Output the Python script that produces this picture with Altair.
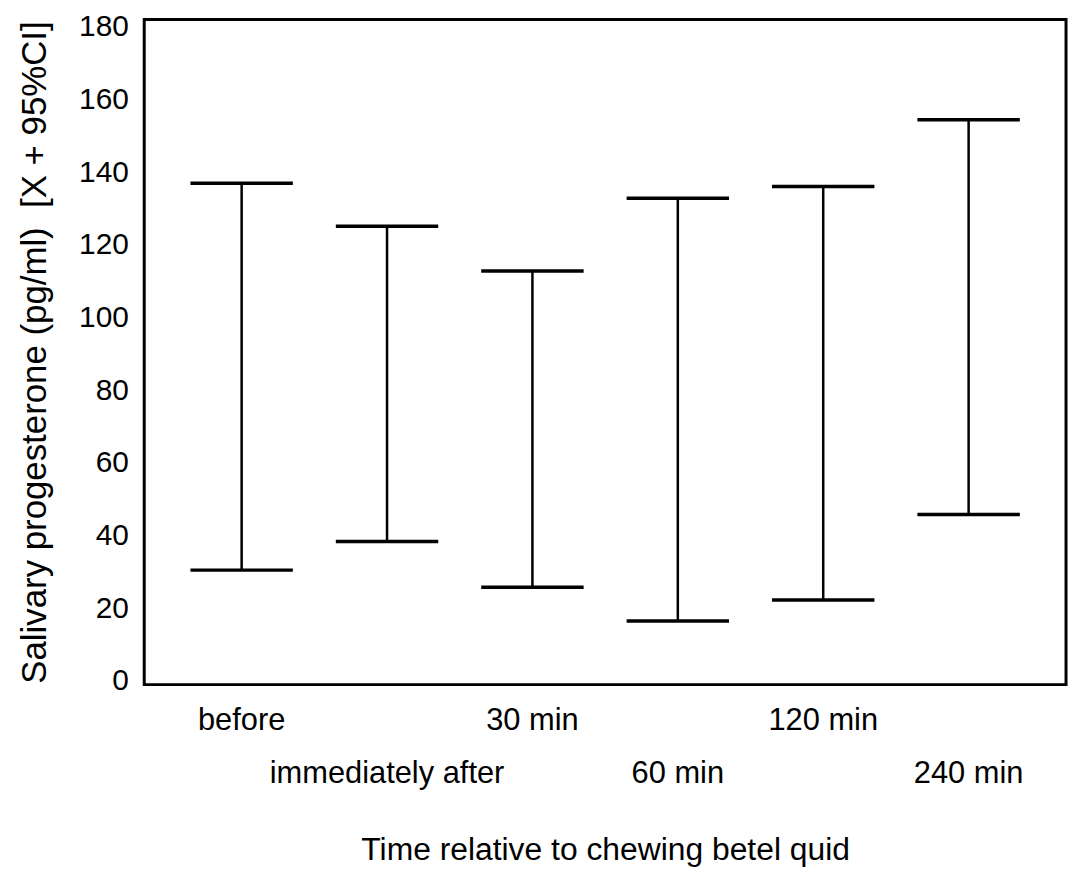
import altair as alt
import pandas as pd

labels = ["before", "immediately after", "30 min", "60 min", "120 min", "240 min"]
positions = [1, 2, 3, 4, 5, 6]
upper = [136.9, 125.1, 112.8, 132.8, 136.0, 154.4]
lower = [30.5, 38.4, 25.8, 16.5, 22.3, 45.8]
label_row = [1, 2, 1, 2, 1, 2]
y_ticks = [0, 20, 40, 60, 80, 100, 120, 140, 160, 180]

df = pd.DataFrame({
    "label": labels,
    "pos": positions,
    "hi": upper,
    "lo": lower,
    "row": label_row,
})

FONT = "Liberation Sans"
W, H = 927, 669

xscale = alt.Scale(domain=[0.33, 6.67], nice=False, zero=False)
yscale = alt.Scale(domain=[-1, 182], nice=False, zero=False)

base = alt.Chart(df)

stems = base.mark_rule(color="black", strokeWidth=2.5, opacity=1).encode(
    x=alt.X("pos:Q", scale=xscale,
            axis=alt.Axis(labels=False, ticks=False, domain=False, grid=False,
                          title="Time relative to chewing betel quid",
                          titleFont=FONT, titleFontSize=32, titleFontWeight="normal",
                          titleColor="black", titleBaseline="middle", titleY=166)),
    y=alt.Y("lo:Q", scale=yscale,
            axis=alt.Axis(values=y_ticks, ticks=False, domain=False, grid=False,
                          labelFont=FONT, labelFontSize=30, labelColor="black",
                          labelPadding=16,
                          title="Salivary progesterone (pg/ml)\u00a0 [X + 95%CI]",
                          titleFont=FONT, titleFontSize=35, titleFontWeight="normal",
                          titleColor="black", titlePadding=26)),
    y2="hi:Q",
)

cap_hi = base.mark_tick(color="black", orient="horizontal", size=103, thickness=3.5, opacity=1).encode(
    x=alt.X("pos:Q", scale=xscale),
    y=alt.Y("hi:Q", scale=yscale),
)
cap_lo = base.mark_tick(color="black", orient="horizontal", size=103, thickness=3.5, opacity=1).encode(
    x=alt.X("pos:Q", scale=xscale),
    y=alt.Y("lo:Q", scale=yscale),
)

text1 = base.transform_filter(alt.datum.row == 1).mark_text(
    font=FONT, fontSize=31, color="black", baseline="middle", align="center"
).encode(
    x=alt.X("pos:Q", scale=xscale),
    y=alt.value(706),
    text="label:N",
)
text2 = base.transform_filter(alt.datum.row == 2).mark_text(
    font=FONT, fontSize=31, color="black", baseline="middle", align="center"
).encode(
    x=alt.X("pos:Q", scale=xscale),
    y=alt.value(759),
    text="label:N",
)

chart = alt.layer(stems, cap_hi, cap_lo, text1, text2).properties(
    width=W, height=H,
    autosize=alt.AutoSizeParams(type="none"),
    padding={"left": 137, "top": 9, "right": 5, "bottom": 190},
    background="white",
).configure_view(stroke="black", strokeWidth=3)

chart.save("out.html", embed_options={"renderer": "svg", "actions": False})
